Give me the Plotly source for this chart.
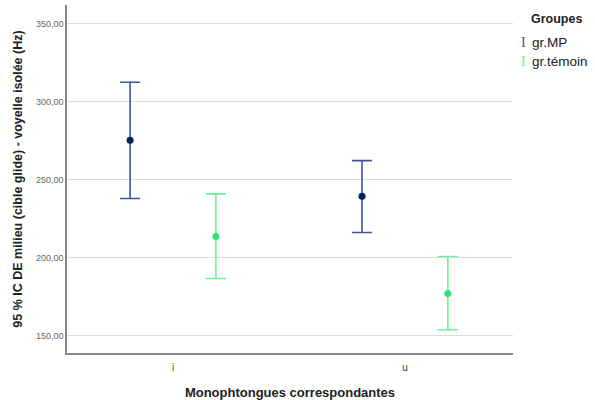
import plotly.graph_objects as go

categories = ["i", "u"]
groups = ["gr.MP", "gr.témoin"]
mp_mean = [275.4, 239.4]
mp_upper = [312.5, 262.3]
mp_lower = [238.0, 216.2]
tem_mean = [213.7, 177.2]
tem_upper = [241.0, 200.8]
tem_lower = [186.7, 153.9]
y_ticks = [150, 200, 250, 300, 350]

offset = 0.185
cat_x = list(range(len(categories)))

def trace(mean, up, lo, dx, bar_color, pt_color, name):
    return go.Scatter(
        x=[c + dx for c in cat_x], y=mean, mode="markers", name=name,
        marker=dict(color=pt_color, size=7),
        error_y=dict(type="data", symmetric=False,
                     array=[u - m for u, m in zip(up, mean)],
                     arrayminus=[m - l for m, l in zip(mean, lo)],
                     color=bar_color, thickness=1.6, width=10),
        showlegend=False,
    )

fig = go.Figure()
fig.add_trace(trace(mp_mean, mp_upper, mp_lower, -offset, "#3d56a0", "#0b1f5e", groups[0]))
fig.add_trace(trace(tem_mean, tem_upper, tem_lower, offset, "#6ff09a", "#34e07a", groups[1]))

L, R, T, B = 67, 82, 5, 47
PW, PH = 595 - L - R, 400 - T - B

fig.update_layout(
    width=595, height=400,
    margin=dict(l=L, r=R, t=T, b=B, autoexpand=False),
    plot_bgcolor="white", paper_bgcolor="white",
    font=dict(family="Liberation Sans, Arial", color="#222"),
    xaxis=dict(range=[-0.457, 1.466], tickvals=cat_x, ticktext=categories,
               showgrid=False, zeroline=False, showline=True, linecolor="#888",
               linewidth=1.5, ticks="", tickfont=dict(size=10, color="#444"),
               automargin=False, ticklabelstandoff=4,
               title=dict(text="<b>Monophtongues correspondantes</b>", font=dict(size=13, color="#222"), standoff=17)),
    yaxis=dict(range=[139, 362], tickvals=y_ticks, tickformat=".2f",
               showgrid=True, gridcolor="#dcdcdc", gridwidth=1.3, zeroline=False,
               showline=True, linecolor="#888", linewidth=1.5, ticks="",
               tickfont=dict(size=9, color="#666"), automargin=False,
               title=dict(text="<b>95 % IC DE milieu (cible glide) - voyelle isolée (Hz)</b>",
                          font=dict(size=12.5, color="#222"), standoff=11)),
    separators=",.",
)

def px(xp):
    return (xp - L) / PW

def py(yp):
    return 1 - (yp - T) / PH

ann = [dict(x=px(529), y=py(19), xref="paper", yref="paper",
            text="<b>Groupes</b>", showarrow=False, xanchor="left", yanchor="middle",
            font=dict(size=12.5, color="#222"))]
legend_items = [(groups[0], "#3d56a0", 42), (groups[1], "#6ff09a", 61)]
for name, col, ypix in legend_items:
    ann.append(dict(x=px(519), y=py(ypix), xref="paper", yref="paper",
                    text="I", showarrow=False, xanchor="left", yanchor="middle",
                    font=dict(size=14, color=col, family="Liberation Serif, Times New Roman")))
    ann.append(dict(x=px(530), y=py(ypix), xref="paper", yref="paper",
                    text=name, showarrow=False, xanchor="left", yanchor="middle",
                    font=dict(size=13.5, color="#222")))
fig.update_layout(annotations=ann)

fig.write_html("out.html", config={"displayModeBar": False},
               post_script="document.body.style.margin='0';")
